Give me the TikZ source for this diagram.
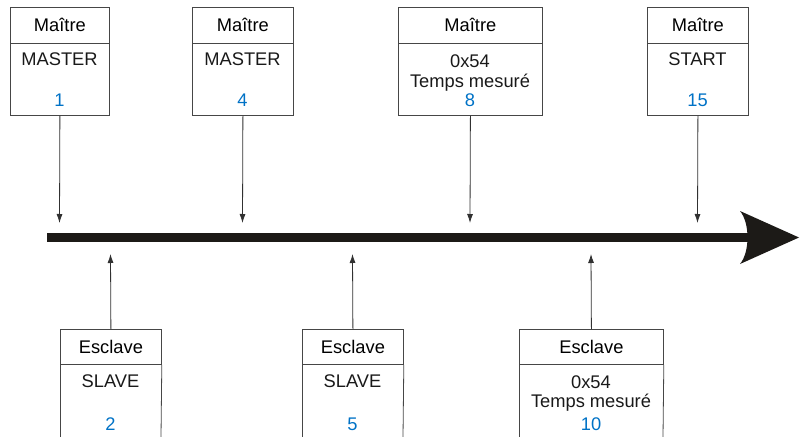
\documentclass[tikz,border=0pt]{standalone}
\usepackage{fontspec}
\setmainfont{Liberation Sans}
\usetikzlibrary{arrows.meta}
\definecolor{boxline}{RGB}{70,70,70}
\definecolor{numblue}{RGB}{0,114,198}
\definecolor{axisblack}{RGB}{28,26,23}
\tikzset{
  hdr/.style={draw=boxline, line width=0.8pt, inner sep=0pt, anchor=north west, minimum height=36pt},
  bodybox/.style={draw=boxline, line width=0.8pt, inner sep=0pt, anchor=north west, minimum height=72pt},
  txt/.style={anchor=base, inner sep=0pt, text=black!90},
  num/.style={anchor=base, inner sep=0pt, text=numblue},
  conn/.style={draw=boxline!70!black, line width=0.8pt, -{Latex[length=9pt,width=6pt]}},
  side/.style={draw=boxline, line width=0.8pt}
}
\begin{document}
\begin{tikzpicture}[x=1pt, y=-1pt, font=\fontsize{18.3}{22}\selectfont]
\useasboundingbox (0,0) rectangle (805,436);

% ---------- Master boxes (top) ----------
\node[hdr, minimum width=99pt] (m1h) at (10,7) {Maître};
\node[bodybox, minimum width=99pt] (m1b) at (10,43) {};
\node[txt] (m1t) at (59.5,65) {MASTER};
\node[num] (m1n) at (59.5,106.5) {1};

\node[hdr, minimum width=101pt] (m2h) at (192,7) {Maître};
\node[bodybox, minimum width=101pt] (m2b) at (192,43) {};
\node[txt] (m2t) at (242.5,65) {MASTER};
\node[num] (m2n) at (242.5,106.5) {4};

\node[hdr, minimum width=144pt] (m3h) at (398,7) {Maître};
\node[bodybox, minimum width=144pt] (m3b) at (398,43) {};
\node[txt] (m3t) at (470,67) {0x54};
\node[txt] (m3u) at (470,87.5) {Temps mesuré};
\node[num] (m3n) at (470,106.5) {8};

\node[hdr, minimum width=101pt] (m4h) at (647,7) {Maître};
\node[bodybox, minimum width=101pt] (m4b) at (647,43) {};
\node[txt] (m4t) at (697.5,65) {START};
\node[num] (m4n) at (697.5,106.5) {15};

% ---------- Slave boxes (bottom, open at the bottom) ----------
\node[hdr, minimum width=101pt, minimum height=35pt] (s1h) at (60,329) {Esclave};
\coordinate (s1l) at (60,437);
\coordinate (s1r) at (161,437);
\draw[side] (s1h.south west) -- (s1l);
\draw[side] (s1h.south east) -- (s1r);
\node[txt] (s1t) at (110.5,387) {SLAVE};
\node[num] (s1n) at (110.5,430.5) {2};

\node[hdr, minimum width=101pt, minimum height=35pt] (s2h) at (302,329) {Esclave};
\coordinate (s2l) at (302,437);
\coordinate (s2r) at (403,437);
\draw[side] (s2h.south west) -- (s2l);
\draw[side] (s2h.south east) -- (s2r);
\node[txt] (s2t) at (352.5,387) {SLAVE};
\node[num] (s2n) at (352.5,430.5) {5};

\node[hdr, minimum width=144pt, minimum height=35pt] (s3h) at (519,329) {Esclave};
\coordinate (s3l) at (519,437);
\coordinate (s3r) at (663,437);
\draw[side] (s3h.south west) -- (s3l);
\draw[side] (s3h.south east) -- (s3r);
\node[txt] (s3t) at (591,388) {0x54};
\node[txt] (s3u) at (591,407) {Temps mesuré};
\node[num] (s3n) at (591,430) {10};

% ---------- Time axis ----------
\coordinate (axstart) at (47,237.5);
\coordinate (axend) at (752,237.5);
\draw[axisblack, line width=9pt] (axstart) -- (axend);
\coordinate (tip) at (799,237.5);
\fill[axisblack] (740,211) -- (tip) -- (740,264) .. controls (750,252) and (750,223) .. cycle;

% ---------- Event pointers ----------
\coordinate (t1) at (59.5,223);
\coordinate (t2) at (242.5,223);
\coordinate (t3) at (470,223);
\coordinate (t4) at (697.5,223);
\draw[conn] (m1b.south) -- (t1);
\draw[conn] (m2b.south) -- (t2);
\draw[conn] (m3b.south) -- (t3);
\draw[conn] (m4b.south) -- (t4);

\coordinate (b1) at (110.5,254);
\coordinate (b2) at (352.5,254);
\coordinate (b3) at (591,254);
\draw[conn] (s1h.north) -- (b1);
\draw[conn] (s2h.north) -- (b2);
\draw[conn] (s3h.north) -- (b3);
\end{tikzpicture}
\end{document}
